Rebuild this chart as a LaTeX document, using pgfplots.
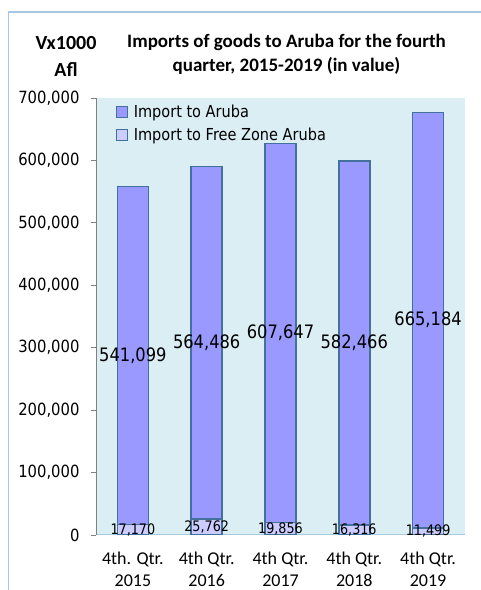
\documentclass[border=0pt]{standalone}
\usepackage{pgfplots}
\pgfplotsset{compat=1.18}
\usepackage{fontspec}
\setmainfont{Carlito}
\newfontfamily\lab[FakeStretch=0.88]{DejaVu Sans}
\definecolor{bgblue}{HTML}{DBEEF4}
\definecolor{ar}{HTML}{9999FF}
\definecolor{fz}{HTML}{CCCCFF}
\definecolor{edge}{HTML}{41719C}
\definecolor{frame}{HTML}{A6C6E2}
\definecolor{xline}{HTML}{A9CADC}
\begin{document}
\begin{tikzpicture}[x=1pt,y=1pt]
\path[use as bounding box] (0,0) rectangle (481,590);
\draw[frame, line width=1.3pt] (8.5,-2) -- (8.5,578) -- (485,578);
\node[font=\bfseries\fontsize{20}{27}\selectfont, align=center] at (66,534) {Vx1000\\Afl};
\node[font=\bfseries\fontsize{19}{24}\selectfont, align=center] at (286.5,536) {Imports of goods to Aruba for the fourth\\quarter, 2015-2019 (in value)};
\begin{axis}[
  at={(96pt,55pt)}, anchor=south west,
  scale only axis, width=369pt, height=437pt,
  ybar stacked, bar width=31pt,
  xmin=-0.5, xmax=4.5, ymin=0, ymax=700000,
  axis background/.style={fill=bgblue},
  axis x line*=bottom, axis y line*=left,
  x axis line style={draw=xline, line width=1pt},
  y axis line style={draw=gray, line width=0.8pt},
  ytick={0,100000,200000,300000,400000,500000,600000,700000},
  scaled y ticks=false,
  /pgf/number format/assume math mode=true,
  /pgf/number format/fixed, /pgf/number format/1000 sep={,},
  yticklabel style={font=\lab\fontsize{16.8}{18}\selectfont, xshift=-8pt},
  ytick style={draw=gray, line width=0.8pt},
  tick align=outside, major tick length=5pt,
  xtick={0,1,2,3,4},
  xticklabels={{4th. Qtr.\\2015},{4th Qtr.\\2016},{4th Qtr.\\2017},{4th Qtr.\\2018},{4th Qtr.\\2019}},
  xticklabel style={align=center, font=\fontsize{18}{22}\selectfont, yshift=-8pt},
  xtick style={draw=none},
]
\addplot[fill=fz, draw=edge, line width=1.5pt] coordinates {(0,17170) (1,25762) (2,19856) (3,16316) (4,11499)};
\addplot[fill=ar, draw=edge, line width=1.5pt] coordinates {(0,541099) (1,564486) (2,607647) (3,582466) (4,665184)};
\end{axis}
\begin{axis}[
  at={(96pt,55pt)}, anchor=south west,
  scale only axis, width=369pt, height=437pt,
  xmin=-0.5, xmax=4.5, ymin=0, ymax=700000, hide axis,
  legend style={at={(0.05,0.992)}, anchor=north west, draw=none, fill=none,
    font=\lab\fontsize{16.5}{18}\selectfont, row sep=5pt, inner sep=1pt,
    /tikz/every odd column/.append style={column sep=4pt}},
  legend cell align=left,
]
\addlegendimage{legend image code/.code={\draw[fill=ar, draw=edge, line width=1.1pt] (0pt,-5.5pt) rectangle (11pt,5.5pt);}}
\addlegendentry{Import to Aruba}
\addlegendimage{legend image code/.code={\draw[fill=fz, draw=edge, line width=1.1pt] (0pt,-5.5pt) rectangle (11pt,5.5pt);}}
\addlegendentry{Import to Free Zone Aruba}
\addplot[draw=none, nodes near coords, point meta=explicit symbolic,
  every node near coord/.style={anchor=center, font=\lab\fontsize{18.5}{20}\selectfont, inner sep=0pt}]
  table[meta=l] {
x y l
0 287719.5 541,099
1 308005 564,486
2 323679.5 607,647
3 307549 582,466
4 344091 665,184
};
\addplot[draw=none, nodes near coords, point meta=explicit symbolic,
  every node near coord/.style={anchor=center, font=\lab\fontsize{14.5}{16}\selectfont, inner sep=0pt}]
  table[meta=l] {
x y l
0 8585 17,170
1 12881 25,762
2 9928 19,856
3 8158 16,316
4 5749.5 11,499
};
\end{axis}
\end{tikzpicture}
\end{document}
